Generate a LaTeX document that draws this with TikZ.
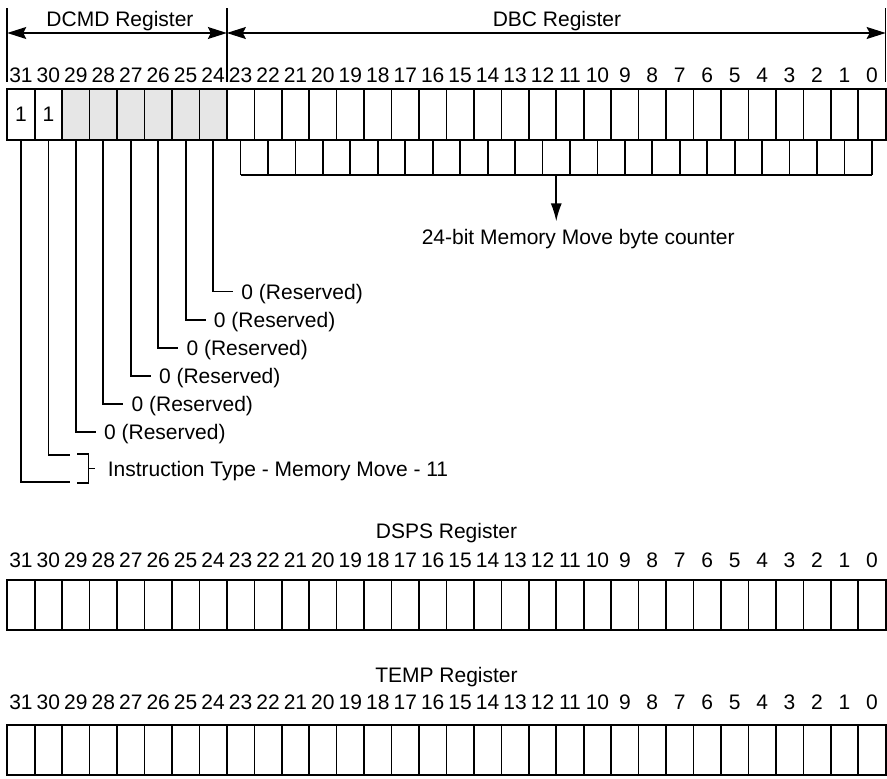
\documentclass[tikz,border=0pt]{standalone}
\usepackage{fontspec}
\setmainfont{Liberation Sans}
\usetikzlibrary{arrows.meta,positioning,calc}
\definecolor{rsvgray}{HTML}{E6E6E6}

\begin{document}
\begin{tikzpicture}[x=1pt,y=-1pt,font=\fontsize{21}{25}\selectfont,line width=1.6pt]
  \tikzstyle{bitcell}=[draw,minimum width=27.45pt,minimum height=51pt,inner sep=0pt,outer sep=0pt]
  \tikzstyle{bitnum}=[inner sep=0pt,text height=15pt,text depth=0pt]
  \tikzstyle{title}=[anchor=base,inner sep=0pt]
  \tikzstyle{rsv}=[anchor=west,inner xsep=7.5pt,inner ysep=0pt,text height=15pt,text depth=0pt]
  \tikzstyle{lead}=[line width=1.8pt]
  \tikzstyle{dim}=[line width=1.2pt,{Stealth[length=19pt,width=12pt,inset=3pt]}-{Stealth[length=19pt,width=12pt,inset=3pt]}]
  \useasboundingbox (0,0) rectangle (887,779);
  % DCMD + DBC register
  \foreach \b in {0,...,31} {
    \pgfmathsetmacro\cx{7.25+(31.5-\b)*27.45}
    \ifnum\b>23 \ifnum\b<30 \def\cf{rsvgray}\else\def\cf{white}\fi\else\def\cf{white}\fi
    \ifnum\b>29 \def\ct{1}\else\def\ct{}\fi
    \node[bitcell,fill=\cf] (c\b) at (\cx,114.5) {\ct};
    \node[bitnum] (n\b) at (\cx,75) {\b};
  }
  \draw[line width=2pt] (c31.north west) rectangle (c0.south east);
  % dimension lines
  \coordinate (dimtop) at (0,8);
  \coordinate (dimbot) at (0,82);
  \coordinate (dimy) at (0,33);
  \draw (c31.north west |- dimtop) -- (c31.north west |- dimbot);
  \draw (c24.north east |- dimtop) -- (c24.north east |- dimbot);
  \draw (c0.north east |- dimtop) -- (c0.north east |- dimbot);
  \draw[dim] (c31.north west |- dimy) -- (c24.north east |- dimy);
  \draw[dim] (c24.north east |- dimy) -- (c0.north east |- dimy);
  \node[title] (dcmd) at (120,27) {DCMD Register};
  \node[title] (dbc) at (557,27) {DBC Register};
  % byte counter comb
  \foreach \b in {0,...,23} {
    \coordinate (k\b) at ($(c\b.south)+(0,35)$);
    \draw[lead] (c\b.south) -- (k\b);
  }
  \draw[lead] (k23) -- (k0);
  \coordinate (kmid) at ($(k23)!0.5!(k0)$);
  \node[anchor=base west,inner xsep=0pt,inner ysep=6.5pt] (bcnt) at (421,244) {24-bit Memory Move byte counter};
  \draw[lead,-{Latex[length=18pt,width=11pt]}] (kmid) -- (kmid |- bcnt.north);
  % reserved bits
  \foreach \b in {24,...,29} {
    \pgfmathsetmacro\lx{7.25+(31.5-\b)*27.45+20}
    \pgfmathsetmacro\ly{291.5+(\b-24)*28.1}
    \node[rsv] (r\b) at (\lx,\ly) {0 (Reserved)};
    \draw[lead] (c\b.south) |- (r\b.west);
  }
  % instruction type bracket
  \coordinate (l30) at (70,455);
  \coordinate (l31) at (70,482);
  \draw[lead] (c30.south) |- (l30);
  \draw[lead] (c31.south) |- (l31);
  \coordinate (bka) at (77,454);
  \coordinate (bkb) at (88.5,454);
  \coordinate (bkc) at (88.5,483);
  \coordinate (bkd) at (77,483);
  \draw[lead] (bka) -- (bkb) -- (bkc) -- (bkd);
  \node[rsv,inner xsep=12pt] (itype) at (95,468.5) {Instruction Type - Memory Move - 11};
  \draw[lead] (bkb |- itype.west) -- (itype.west);
  % DSPS register
  \node[title] (dsps) at (446.5,538.5) {DSPS Register};
  \foreach \b in {0,...,31} {
    \pgfmathsetmacro\cx{7.25+(31.5-\b)*27.45}
    \node[bitcell,minimum height=50pt] (d\b) at (\cx,605) {};
    \node[bitnum] (dn\b) at (\cx,560) {\b};
  }
  \draw[line width=2pt] (d31.north west) rectangle (d0.south east);
  % TEMP register
  \node[title] (temp) at (446.5,682) {TEMP Register};
  \foreach \b in {0,...,31} {
    \pgfmathsetmacro\cx{7.25+(31.5-\b)*27.45}
    \node[bitcell,minimum height=50pt] (t\b) at (\cx,750) {};
    \node[bitnum] (tn\b) at (\cx,702) {\b};
  }
  \draw[line width=2pt] (t31.north west) rectangle (t0.south east);
\end{tikzpicture}
\end{document}
